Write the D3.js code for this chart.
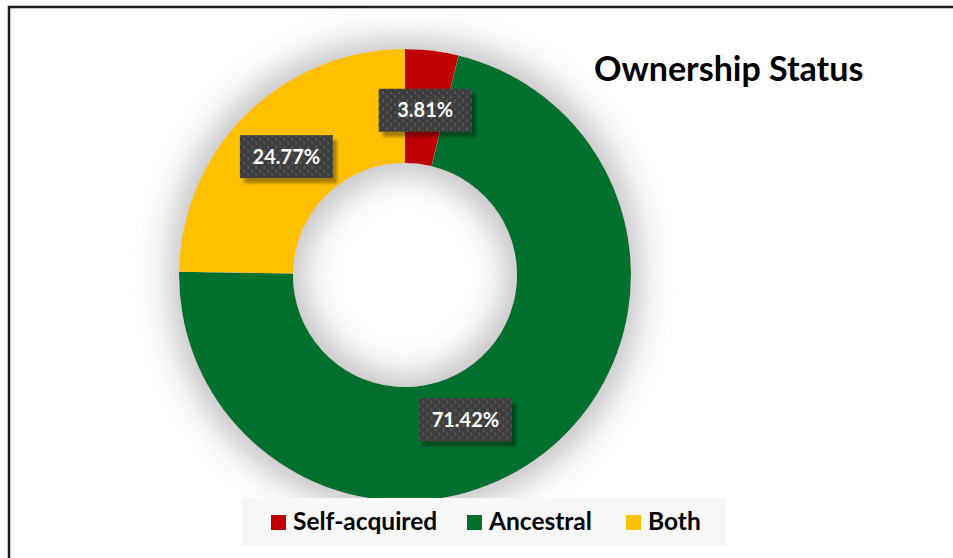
<!DOCTYPE html>
<html>
<head>
<meta charset="utf-8">
<script src="https://cdn.jsdelivr.net/npm/d3@7"></script>
<style>
  html, body { margin: 0; padding: 0; background: #fff; }
  svg { display: block; }
</style>
</head>
<body>
<svg id="chart" width="953" height="558"></svg>
<script>
// Ownership status shares (percent)
const categories = ["Self-acquired", "Ancestral", "Both"];
const shares = [3.81, 71.42, 24.77];
const colors = ["#C00000", "#00702F", "#FFC000"];
const labelNudge = [[0, 3], [-43, 11], [0, 2]];

const svg = d3.select("#chart");
const width = 953, height = 558;
const cx = 405, cy = 275;
const outerR = 226, innerR = 112;

const defs = svg.append("defs");

// soft halo around the ring
const halo = defs.append("filter").attr("id", "halo")
  .attr("x", "-30%").attr("y", "-30%").attr("width", "160%").attr("height", "160%");
halo.append("feMorphology").attr("in", "SourceAlpha").attr("operator", "dilate").attr("radius", 10).attr("result", "d");
halo.append("feGaussianBlur").attr("in", "d").attr("stdDeviation", 16).attr("result", "b");
halo.append("feFlood").attr("flood-color", "#c4c4c4").attr("flood-opacity", 1);
halo.append("feComposite").attr("in2", "b").attr("operator", "in").attr("result", "s");
const hm = halo.append("feMerge");
hm.append("feMergeNode").attr("in", "s");
hm.append("feMergeNode").attr("in", "SourceGraphic");

// label box shadow
const ls = defs.append("filter").attr("id", "lshadow")
  .attr("x", "-20%").attr("y", "-30%").attr("width", "150%").attr("height", "170%");
ls.append("feDropShadow").attr("dx", 4).attr("dy", 5).attr("stdDeviation", 1.6)
  .attr("flood-color", "#000").attr("flood-opacity", 0.35);

// dotted texture for the label boxes
const pat = defs.append("pattern").attr("id", "dots")
  .attr("width", 8).attr("height", 8).attr("patternUnits", "userSpaceOnUse");
pat.append("rect").attr("width", 8).attr("height", 8).attr("fill", "#3e3e3e");
pat.append("rect").attr("x", 1).attr("y", 1).attr("width", 2).attr("height", 3).attr("fill", "#565656");
pat.append("rect").attr("x", 5).attr("y", 5).attr("width", 2).attr("height", 3).attr("fill", "#565656");

// frame
svg.append("rect").attr("x", 9).attr("y", 7).attr("width", width + 20).attr("height", height + 20)
  .attr("fill", "#fff").attr("stroke", "#1c1c1c").attr("stroke-width", 2.5);

const data = categories.map((c, i) => ({ name: c, value: shares[i], color: colors[i], nudge: labelNudge[i] }));

const pie = d3.pie().value(d => d.value).sort(null);
const arc = d3.arc().innerRadius(innerR).outerRadius(outerR);
const arcs = pie(data);

const ring = svg.append("g").attr("transform", `translate(${cx},${cy})`);
ring.append("g").attr("filter", "url(#halo)")
  .selectAll("path").data(arcs).join("path")
  .attr("d", arc).attr("fill", d => d.data.color);

// value labels
const boxW = 93, boxH = 43;
const lab = ring.selectAll("g.lab").data(arcs).join("g").attr("class", "lab")
  .attr("transform", d => {
    const [x, y] = arc.centroid(d);
    return `translate(${x + d.data.nudge[0]},${y + d.data.nudge[1]})`;
  });
lab.append("rect").attr("x", -boxW / 2).attr("y", -boxH / 2).attr("width", boxW).attr("height", boxH)
  .attr("fill", "url(#dots)").attr("filter", "url(#lshadow)");
lab.append("text").attr("text-anchor", "middle").attr("dy", "0.36em")
  .attr("fill", "#fff").attr("font-family", "Lato, 'Open Sans', sans-serif")
  .attr("font-weight", "bold").attr("font-size", 20)
  .text(d => d.data.value.toFixed(2) + "%");

// title
svg.append("text").attr("x", 594).attr("y", 81)
  .attr("font-family", "Lato, 'Open Sans', sans-serif").attr("font-weight", "bold")
  .attr("font-size", 34).attr("fill", "#000")
  .text("Ownership Status");

// legend
svg.append("rect").attr("x", 242).attr("y", 498).attr("width", 484).attr("height", 48).attr("fill", "#f7f7f7");
const legendX = [271, 467, 626];
const lg = svg.selectAll("g.leg").data(data).join("g").attr("class", "leg")
  .attr("transform", (d, i) => `translate(${legendX[i]},515)`);
lg.append("rect").attr("width", 15).attr("height", 15).attr("fill", d => d.color);
lg.append("text").attr("x", 22).attr("y", 15)
  .attr("font-family", "Lato, 'Open Sans', sans-serif").attr("font-weight", "bold")
  .attr("font-size", 24.5).attr("fill", "#000")
  .text(d => d.name);
</script>
</body>
</html>
